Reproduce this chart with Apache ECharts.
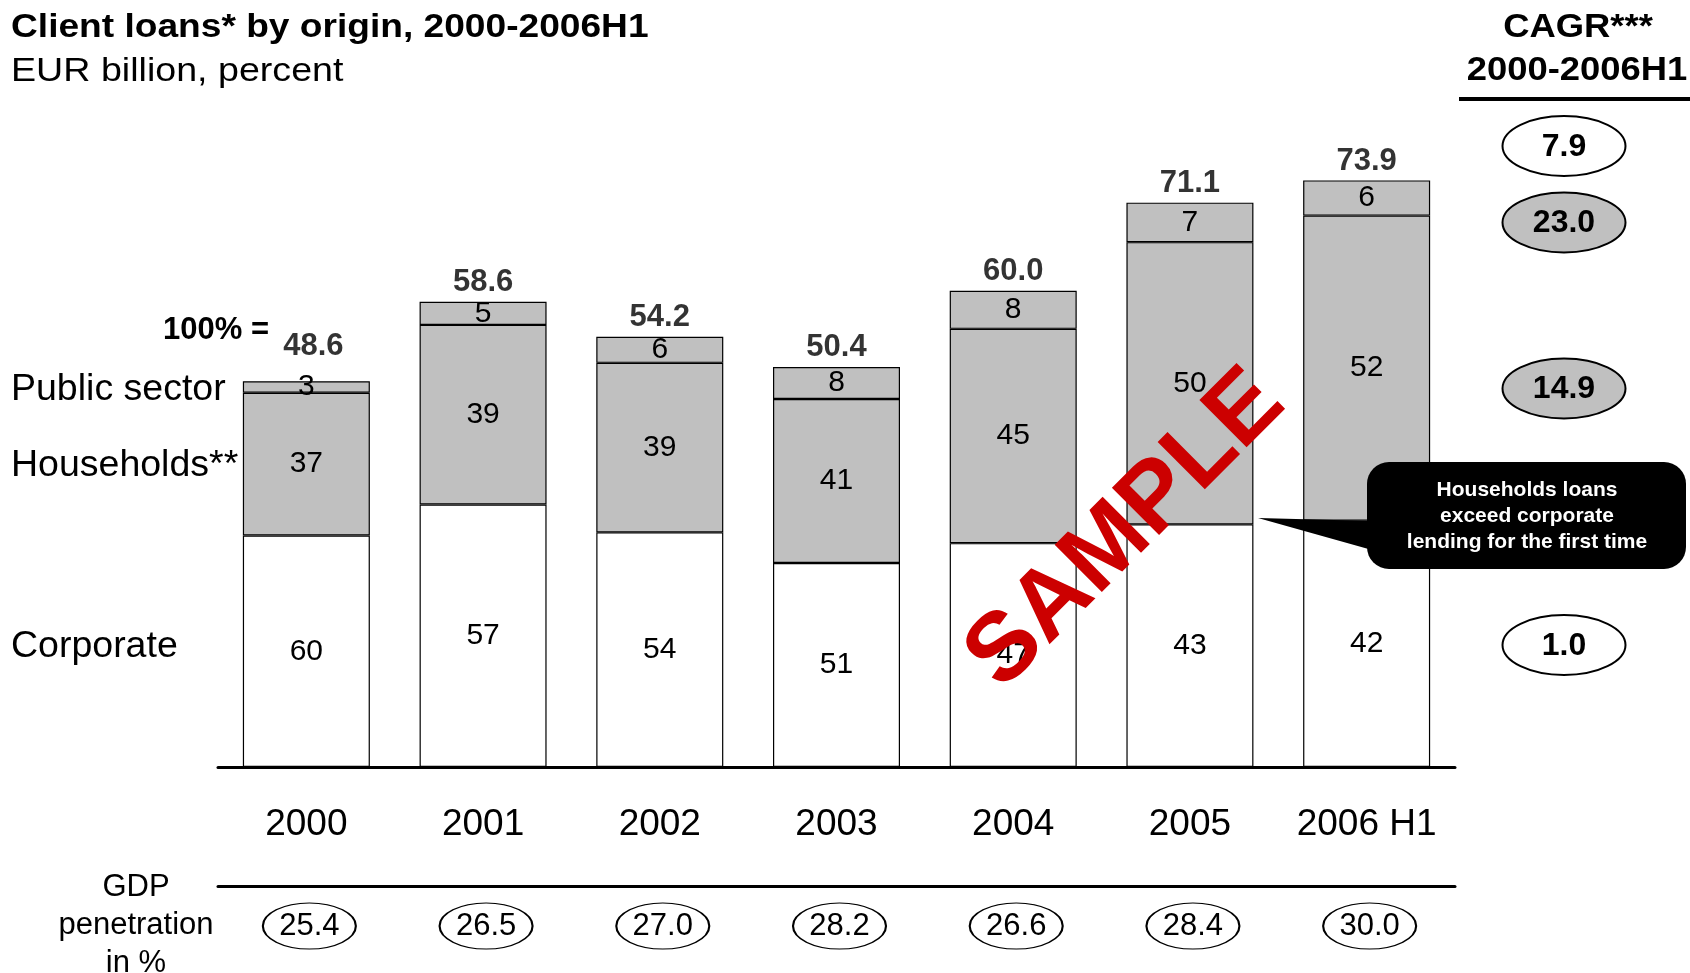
<!DOCTYPE html>
<html><head><meta charset="utf-8">
<script src="https://cdn.jsdelivr.net/npm/echarts@6/dist/echarts.min.js"></script>
<style>html,body{margin:0;padding:0;background:#fff}#chart{width:1690px;height:973px}</style>
</head><body><div id="chart"></div>
<script>
// ---- data ----
const categories = ['2000', '2001', '2002', '2003', '2004', '2005', '2006 H1'];
const totals = [48.6, 58.6, 54.2, 50.4, 60.0, 71.1, 73.9];
const corporatePct = [60, 57, 54, 51, 47, 43, 42];
const householdsPct = [37, 39, 39, 41, 45, 50, 52];
const publicPct = [3, 5, 6, 8, 8, 7, 6];
const gdpPenetration = [25.4, 26.5, 27.0, 28.2, 26.6, 28.4, 30.0];
const rowLabels = ['Public sector', 'Households**', 'Corporate'];
const cagrRows = ['Total', 'Public sector', 'Households', 'Corporate'];
const cagrValues = [7.9, 23.0, 14.9, 1.0];

// ---- derived ----
const FONT = '"Liberation Sans", Arial, Helvetica, sans-serif';
function segment(pctArr) {
  return pctArr.map((p, i) => {
    const sum = corporatePct[i] + householdsPct[i] + publicPct[i];
    return +(totals[i] * p / sum).toFixed(3);
  });
}
const segLabel = (arr) => ({
  show: true, position: 'inside', color: '#000', fontSize: 30, fontFamily: FONT,
  formatter: (p) => String(arr[p.dataIndex])
});
const barStyle = (fill) => ({ color: fill, borderColor: '#000', borderWidth: 1.2 });

const chart = echarts.init(document.getElementById('chart'), null, { renderer: 'canvas' });

const ellipsePath = 'path://M50,0C77.6,0,100,22.4,100,50C100,77.6,77.6,100,50,100C22.4,100,0,77.6,0,50C0,22.4,22.4,0,50,0Z';

// CAGR annotation layout (right column)
const cagrY = [146, 222.5, 388.5, 645];
const cagrFill = ['#ffffff', '#c0c0c0', '#c0c0c0', '#ffffff'];
const cagrGraphics = [];
cagrValues.forEach((v, k) => {
  cagrGraphics.push({
    type: 'ellipse', z: 10,
    shape: { cx: 1564, cy: cagrY[k], rx: 61.5, ry: 30 },
    style: { fill: cagrFill[k], stroke: '#000', lineWidth: 2 }
  });
  cagrGraphics.push({
    type: 'text', z: 11, x: 1564, y: cagrY[k] + 1,
    style: { text: v.toFixed(1), font: 'bold 32px ' + FONT, fill: '#000', align: 'center', verticalAlign: 'middle' }
  });
});

const rowY = [389.5, 466, 646.5];
const rowGraphics = rowLabels.map((t, k) => ({
  type: 'text', x: 11, y: rowY[k],
  style: { text: t, font: '37.5px ' + FONT, fill: '#000', align: 'left', verticalAlign: 'middle' }
}));

const option = {
  animation: false,
  backgroundColor: '#ffffff',
  textStyle: { fontFamily: FONT },
  grid: [
    { left: 218, width: 1237, top: 132, height: 635 },
    { left: 218, width: 1237, top: 886, height: 80 }
  ],
  xAxis: [
    {
      type: 'category', gridIndex: 0, data: categories,
      axisLine: { show: true, lineStyle: { color: '#000', width: 3 } },
      axisTick: { show: false },
      axisLabel: { color: '#000', fontSize: 37, fontFamily: FONT, margin: 39, interval: 0 },
      splitLine: { show: false }
    },
    {
      type: 'category', gridIndex: 1, data: categories, position: 'top',
      axisLine: { show: true, lineStyle: { color: '#000', width: 3 } },
      axisTick: { show: false }, axisLabel: { show: false }, splitLine: { show: false }
    }
  ],
  yAxis: [
    { type: 'value', gridIndex: 0, min: 0, max: 80, show: false },
    { type: 'category', gridIndex: 1, data: ['GDP'], show: false }
  ],
  series: [
    {
      name: 'Corporate', type: 'bar', stack: 'loans', barWidth: 127,
      data: segment(corporatePct), itemStyle: barStyle('#ffffff'), label: segLabel(corporatePct)
    },
    {
      name: 'Households', type: 'bar', stack: 'loans', barWidth: 127,
      data: segment(householdsPct), itemStyle: barStyle('#c0c0c0'), label: segLabel(householdsPct)
    },
    {
      name: 'Public sector', type: 'bar', stack: 'loans', barWidth: 127,
      data: segment(publicPct), itemStyle: barStyle('#c0c0c0'), label: segLabel(publicPct)
    },
    {
      name: 'Total', type: 'scatter', z: 5, symbolSize: 1,
      itemStyle: { color: 'rgba(0,0,0,0)' },
      data: totals.map((v, i) => i === 0 ? { value: v, label: { distance: 19, offset: [7, 0] } } : v),
      label: {
        show: true, position: 'top', distance: 3, color: '#000', fontSize: 31, fontWeight: 'bold', fontFamily: FONT,
        formatter: (p) => Number(p.value).toFixed(1)
      }
    },
    {
      name: 'GDP penetration', type: 'scatter', xAxisIndex: 1, yAxisIndex: 1,
      symbol: ellipsePath, symbolSize: [93, 46], symbolOffset: [3, 0],
      itemStyle: { color: '#ffffff', borderColor: '#000', borderWidth: 1.5, opacity: 1 },
      data: gdpPenetration.map((v, i) => [categories[i], 'GDP', v]),
      label: {
        show: true, position: 'inside', color: '#000', fontSize: 31, fontFamily: FONT,
        formatter: (p) => p.value[2].toFixed(1)
      }
    }
  ],
  graphic: [
    { type: 'text', x: 11, y: 28, scaleX: 1.125,
      style: { text: 'Client loans* by origin, 2000-2006H1', font: 'bold 33px ' + FONT, fill: '#000', align: 'left', verticalAlign: 'middle' } },
    { type: 'text', x: 11, y: 72, scaleX: 1.14,
      style: { text: 'EUR billion, percent', font: '33px ' + FONT, fill: '#000', align: 'left', verticalAlign: 'middle' } },
    { type: 'text', x: 1578, y: 28, scaleX: 1.12,
      style: { text: 'CAGR***', font: 'bold 32.5px ' + FONT, fill: '#000', align: 'center', verticalAlign: 'middle' } },
    { type: 'text', x: 1577, y: 71, scaleX: 1.12,
      style: { text: '2000-2006H1', font: 'bold 32.5px ' + FONT, fill: '#000', align: 'center', verticalAlign: 'middle' } },
    { type: 'line', shape: { x1: 1459, y1: 99, x2: 1690, y2: 99 }, style: { stroke: '#000', lineWidth: 4 } },
    ...cagrGraphics,
    ...rowGraphics,
    { type: 'text', x: 163, y: 330,
      style: { text: '100% =', font: 'bold 31px ' + FONT, fill: '#000', align: 'left', verticalAlign: 'middle' } },
    { type: 'text', x: 136, y: 925,
      style: { text: 'GDP\npenetration\nin %', font: '31px ' + FONT, lineHeight: 38, fill: '#000', align: 'center', verticalAlign: 'middle' } },
    { type: 'polygon', z: 20, shape: { points: [[1258, 518], [1372, 521], [1372, 550]] }, style: { fill: '#000' } },
    { type: 'rect', z: 20, shape: { x: 1367, y: 462, width: 319, height: 107, r: 22 }, style: { fill: '#000' } },
    { type: 'text', z: 21, x: 1527, y: 516,
      style: { text: 'Households loans\nexceed corporate\nlending for the first time', font: 'bold 21px ' + FONT, lineHeight: 26, fill: '#fff', align: 'center', verticalAlign: 'middle' } },
    { type: 'text', z: 100, x: 1126, y: 530, rotation: Math.PI / 4,
      style: { text: 'SAMPLE', font: 'bold 97px ' + FONT, fill: '#cc0000', align: 'center', verticalAlign: 'middle' } }
  ]
};
chart.setOption(option);
</script>
</body></html>
